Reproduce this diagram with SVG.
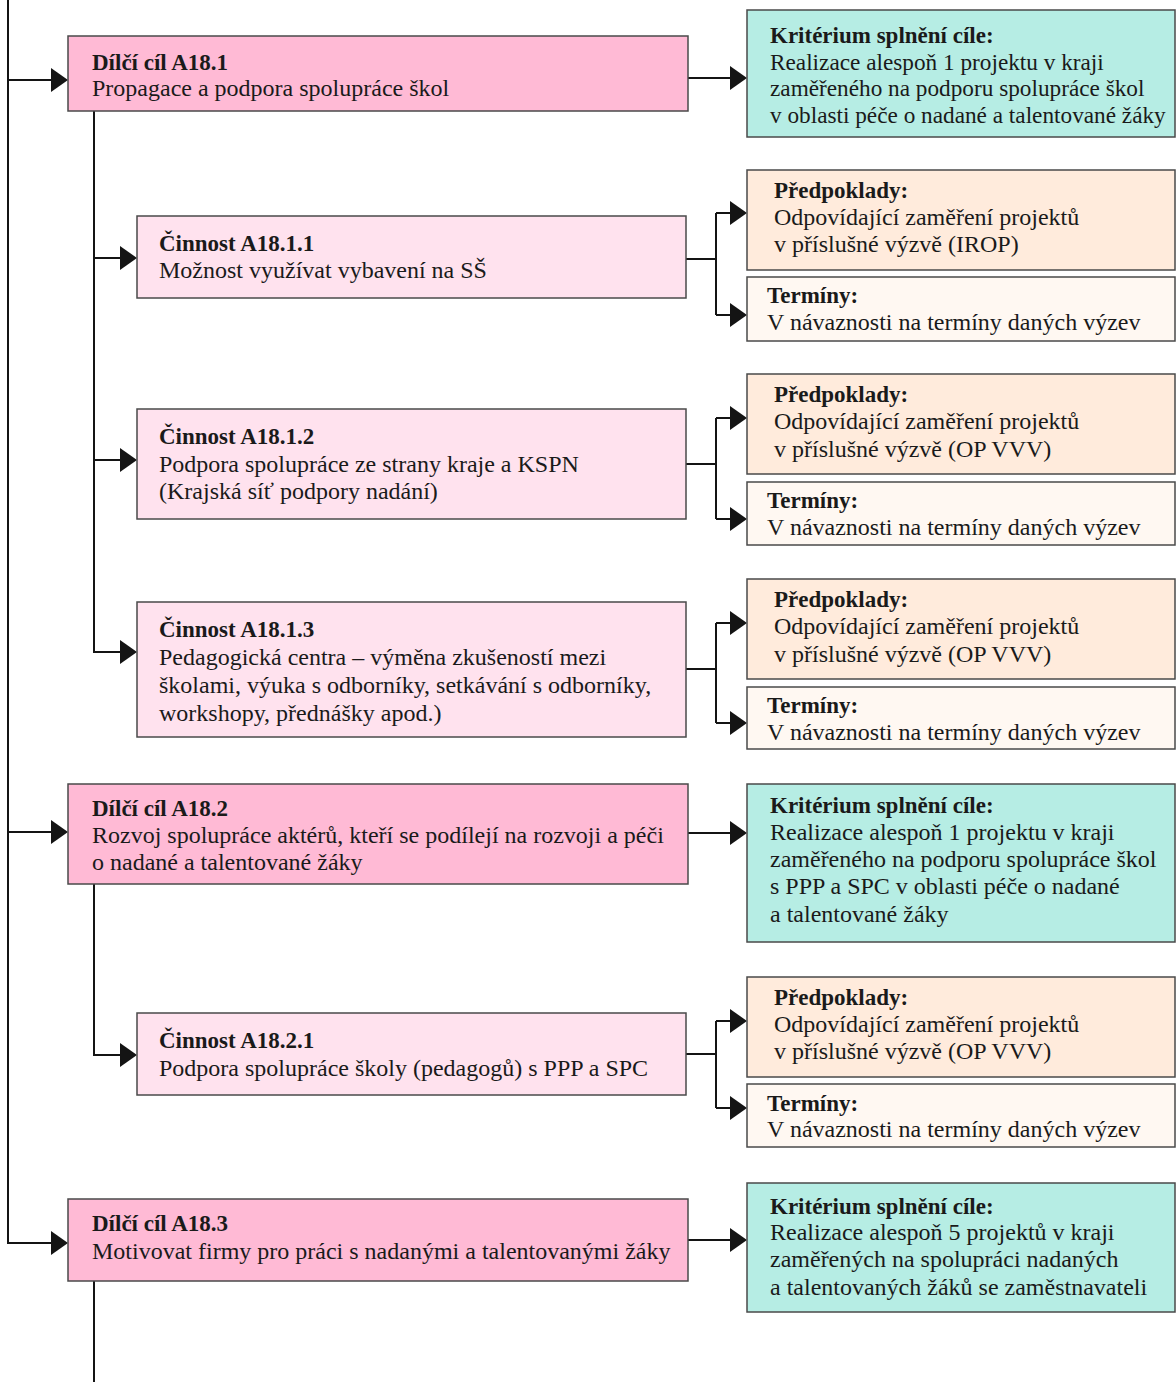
<svg xmlns="http://www.w3.org/2000/svg" width="1176" height="1382" viewBox="0 0 1176 1382">
<defs>
<marker id="ah" viewBox="0 0 17 24" markerUnits="userSpaceOnUse" markerWidth="17" markerHeight="24" refX="9" refY="12" orient="auto">
<path d="M0,0 L17,12 L0,24 z" fill="#141414"/>
</marker>
<style>
rect{stroke:#4a4a4a;stroke-width:1.5}
.goal{fill:#FFBAD5}
.act{fill:#FFE2EE}
.crit{fill:#B6EDE4}
.pre{fill:#FFEBDC}
.term{fill:#FFF8F2}
text{font-family:"Liberation Serif","Times New Roman",serif;font-size:24px;fill:#1a1a1a}
.b{font-weight:bold;font-size:23px}
.s{font-size:23.25px}
.c path{fill:none;stroke:#141414;stroke-width:2}
.c .a{marker-end:url(#ah)}
</style>
</defs>
<rect width="1176" height="1382" fill="#ffffff" style="stroke:none"/>
<g class="c" id="connectors">
<path d="M8,0 V1243 H60" class="a"/>
<path d="M8,80 H60" class="a"/>
<path d="M8,832 H60" class="a"/>
<path d="M688,78 H739" class="a"/>
<path d="M688,833 H739" class="a"/>
<path d="M688,1240 H739" class="a"/>
<path d="M94,111 V652 H129" class="a"/>
<path d="M94,258 H129" class="a"/>
<path d="M94,460 H129" class="a"/>
<path d="M94,884 V1055 H129" class="a"/>
<path d="M94,1281 V1382"/>
<path d="M686,259 H716 M716,213 V315"/>
<path d="M716,213 H739" class="a"/>
<path d="M716,315 H739" class="a"/>
<path d="M686,464 H716 M716,418 V519"/>
<path d="M716,418 H739" class="a"/>
<path d="M716,519 H739" class="a"/>
<path d="M686,669 H716 M716,623 V723"/>
<path d="M716,623 H739" class="a"/>
<path d="M716,723 H739" class="a"/>
<path d="M686,1054 H716 M716,1021 V1108"/>
<path d="M716,1021 H739" class="a"/>
<path d="M716,1108 H739" class="a"/>
</g>
<g id="goal1"><rect class="goal" x="68" y="36" width="620" height="75"/>
<text x="92" y="70" class="b">Dílčí cíl A18.1</text>
<text x="92" y="96">Propagace a podpora spolupráce škol</text></g>
<g id="crit1"><rect class="crit" x="747" y="10" width="428" height="127"/>
<text x="770" y="43" class="b">Kritérium splnění cíle:</text>
<text x="770" y="70" class="s">Realizace alespoň 1 projektu v kraji</text>
<text x="770" y="96" class="s">zaměřeného na podporu spolupráce škol</text>
<text x="770" y="123" class="s">v oblasti péče o nadané a talentované žáky</text></g>
<g id="act1"><rect class="act" x="137" y="216" width="549" height="82"/>
<text x="159" y="251" class="b">Činnost A18.1.1</text>
<text x="159" y="278">Možnost využívat vybavení na SŠ</text></g>
<g id="pre1"><rect class="pre" x="747" y="170" width="428" height="100"/>
<text x="774" y="198" class="b">Předpoklady:</text>
<text x="774" y="225">Odpovídající zaměření projektů</text>
<text x="774" y="252">v příslušné výzvě (IROP)</text></g>
<g id="term1"><rect class="term" x="747" y="277" width="428" height="64"/>
<text x="767" y="303" class="b">Termíny:</text>
<text x="767" y="330">V návaznosti na termíny daných výzev</text></g>
<g id="act2"><rect class="act" x="137" y="409" width="549" height="110"/>
<text x="159" y="444" class="b">Činnost A18.1.2</text>
<text x="159" y="472">Podpora spolupráce ze strany kraje a KSPN</text>
<text x="159" y="499">(Krajská síť podpory nadání)</text></g>
<g id="pre2"><rect class="pre" x="747" y="374" width="428" height="100"/>
<text x="774" y="402" class="b">Předpoklady:</text>
<text x="774" y="429">Odpovídající zaměření projektů</text>
<text x="774" y="457">v příslušné výzvě (OP VVV)</text></g>
<g id="term2"><rect class="term" x="747" y="482" width="428" height="63"/>
<text x="767" y="508" class="b">Termíny:</text>
<text x="767" y="535">V návaznosti na termíny daných výzev</text></g>
<g id="act3"><rect class="act" x="137" y="602" width="549" height="135"/>
<text x="159" y="637" class="b">Činnost A18.1.3</text>
<text x="159" y="665">Pedagogická centra – výměna zkušeností mezi</text>
<text x="159" y="693">školami, výuka s odborníky, setkávání s odborníky,</text>
<text x="159" y="721">workshopy, přednášky apod.)</text></g>
<g id="pre3"><rect class="pre" x="747" y="579" width="428" height="100"/>
<text x="774" y="607" class="b">Předpoklady:</text>
<text x="774" y="634">Odpovídající zaměření projektů</text>
<text x="774" y="662">v příslušné výzvě (OP VVV)</text></g>
<g id="term3"><rect class="term" x="747" y="687" width="428" height="62"/>
<text x="767" y="713" class="b">Termíny:</text>
<text x="767" y="740">V návaznosti na termíny daných výzev</text></g>
<g id="goal2"><rect class="goal" x="68" y="784" width="620" height="100"/>
<text x="92" y="816" class="b">Dílčí cíl A18.2</text>
<text x="92" y="843">Rozvoj spolupráce aktérů, kteří se podílejí na rozvoji a péči</text>
<text x="92" y="870">o nadané a talentované žáky</text></g>
<g id="crit2"><rect class="crit" x="747" y="784" width="428" height="158"/>
<text x="770" y="813" class="b">Kritérium splnění cíle:</text>
<text x="770" y="840">Realizace alespoň 1 projektu v kraji</text>
<text x="770" y="867">zaměřeného na podporu spolupráce škol</text>
<text x="770" y="894">s PPP a SPC v oblasti péče o nadané</text>
<text x="770" y="922">a talentované žáky</text></g>
<g id="act4"><rect class="act" x="137" y="1013" width="549" height="82"/>
<text x="159" y="1048" class="b">Činnost A18.2.1</text>
<text x="159" y="1076">Podpora spolupráce školy (pedagogů) s PPP a SPC</text></g>
<g id="pre4"><rect class="pre" x="747" y="977" width="428" height="100"/>
<text x="774" y="1005" class="b">Předpoklady:</text>
<text x="774" y="1032">Odpovídající zaměření projektů</text>
<text x="774" y="1059">v příslušné výzvě (OP VVV)</text></g>
<g id="term4"><rect class="term" x="747" y="1084" width="428" height="63"/>
<text x="767" y="1111" class="b">Termíny:</text>
<text x="767" y="1137">V návaznosti na termíny daných výzev</text></g>
<g id="goal3"><rect class="goal" x="68" y="1199" width="620" height="82"/>
<text x="92" y="1231" class="b">Dílčí cíl A18.3</text>
<text x="92" y="1259">Motivovat firmy pro práci s nadanými a talentovanými žáky</text></g>
<g id="crit3"><rect class="crit" x="747" y="1183" width="428" height="129"/>
<text x="770" y="1214" class="b">Kritérium splnění cíle:</text>
<text x="770" y="1240">Realizace alespoň 5 projektů v kraji</text>
<text x="770" y="1267">zaměřených na spolupráci nadaných</text>
<text x="770" y="1295">a talentovaných žáků se zaměstnavateli</text></g>
</svg>
